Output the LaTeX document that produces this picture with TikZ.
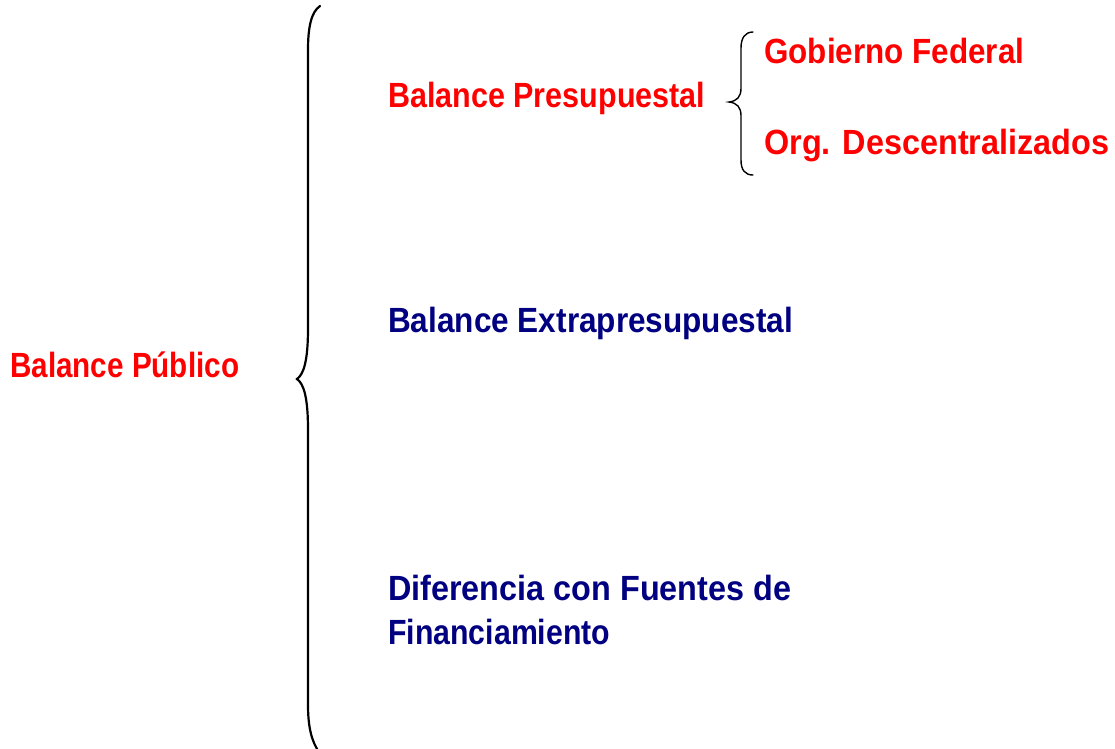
\documentclass[tikz,border=0pt]{standalone}
\usepackage{fontspec}
\setmainfont{Liberation Sans}
\definecolor{navyblue}{RGB}{0,0,128}
\newcommand{\fitw}[2]{\resizebox{#1}{\height}{#2}}
\tikzset{
  lbl/.style={anchor=base west, inner sep=0pt, font=\fontsize{35}{35}\selectfont\bfseries},
  redtxt/.style={lbl, text=red},
  bluetxt/.style={lbl, text=navyblue},
  bigbrace/.style={draw=black, line width=2.2pt, line cap=round},
  smallbrace/.style={draw=black, line width=1.4pt, line cap=round}
}
\begin{document}
\begin{tikzpicture}[x=1pt,y=-1pt]
\useasboundingbox (0,0) rectangle (1115,748);
% texts
\node[redtxt] (pub) at (10,377) {\fitw{229pt}{Balance Público}};
\node[redtxt] (pres) at (388,107) {\fitw{317pt}{Balance Presupuestal}};
\node[redtxt] (gob) at (764,63) {\fitw{260pt}{Gobierno Federal}};
\node[redtxt] (org) at (764,154) {\fitw{345pt}{Org. Descentralizados}};
\node[bluetxt] (extra) at (388,332) {\fitw{405pt}{Balance Extrapresupuestal}};
\node[bluetxt] (dif1) at (388,600) {\fitw{403pt}{Diferencia con Fuentes de}};
\node[bluetxt] (dif2) at (388,644) {\fitw{222pt}{Financiamiento}};
% big brace
\coordinate (bbtop) at (320,6);
\coordinate (bbtip) at (297,379);
\coordinate (bbbot) at (319,752);
\draw[bigbrace] (bbtop) .. controls (311,12) and (308,28) .. (308,50)
  -- (308,328) .. controls (308,360) and (304,374) .. (bbtip)
  .. controls (304,384) and (308,398) .. (308,430)
  -- (308,705) .. controls (308,728) and (312,742) .. (bbbot);
% small brace
\coordinate (sbtop) at (753,32);
\coordinate (sbtip) at (729,102);
\coordinate (sbbot) at (753,175);
\draw[smallbrace] (sbtop) .. controls (745,32) and (741,38) .. (741,48)
  -- (741,88) .. controls (741,97) and (737,101) .. (sbtip)
  .. controls (737,103) and (741,107) .. (741,116)
  -- (741,160) .. controls (741,170) and (745,175) .. (sbbot);
\end{tikzpicture}
\end{document}
